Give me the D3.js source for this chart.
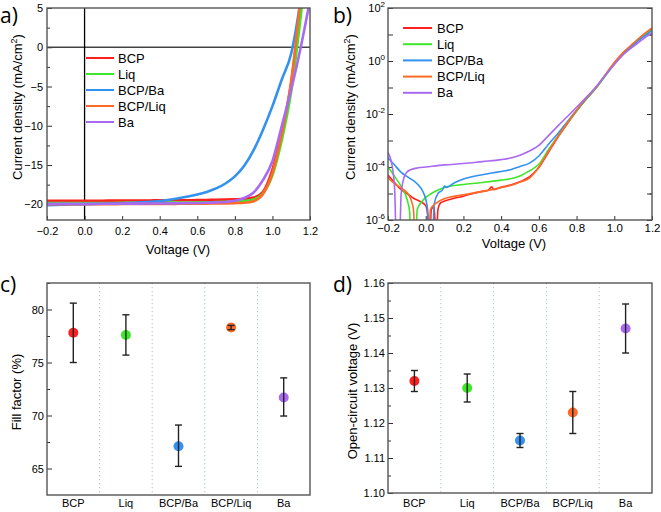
<!DOCTYPE html>
<html>
<head>
<meta charset="utf-8">
<script src="https://cdn.jsdelivr.net/npm/d3@7"></script>
<style>
body { margin: 0; background: #fff; }
text { font-family: "Liberation Sans", Arial, sans-serif; fill: #000; }
.lett { font-family: "Open Sans", "DejaVu Sans", sans-serif; }
</style>
</head>
<body>
<div id="fig"></div>
<script>
// ---------- data ----------
var names = ["BCP", "Liq", "BCP/Ba", "BCP/Liq", "Ba"];
var colors = ["#ff1f1f", "#3ee62a", "#3391f0", "#ff6a26", "#a86af2"];

// a) J-V under light (mA/cm2)
var voltA = [-0.2,-0.15,-0.1,-0.05,0,0.05,0.1,0.15,0.2,0.25,0.3,0.35,0.4,0.45,0.5,0.55,0.6,0.65,0.7,0.75,0.8,0.85,0.9,0.95,1.0,1.05,1.1,1.15,1.2];
var jBCP   = [-19.55,-19.55,-19.55,-19.55,-19.55,-19.54,-19.54,-19.53,-19.53,-19.52,-19.52,-19.51,-19.5,-19.5,-19.49,-19.48,-19.47,-19.45,-19.43,-19.4,-19.36,-19.3,-19.15,-18.4,-15.6,-10.8,-4.5,5.5,18];
var jLiq   = [-19.85,-19.85,-19.85,-19.84,-19.84,-19.84,-19.83,-19.83,-19.82,-19.82,-19.81,-19.8,-19.8,-19.79,-19.78,-19.77,-19.76,-19.74,-19.72,-19.69,-19.65,-19.58,-19.4,-18.6,-16.3,-11.8,-5.6,3.8,15];
var jBCPBa = [-20.1,-20.07,-20.05,-20.02,-20.0,-19.97,-19.94,-19.9,-19.86,-19.81,-19.76,-19.69,-19.58,-19.42,-19.22,-19.0,-18.75,-18.42,-17.98,-17.35,-16.45,-15.1,-13.1,-10.5,-7.5,-4.1,-0.8,6,15];
var jBCPLiq= [-20.0,-20.0,-20.0,-19.99,-19.99,-19.99,-19.98,-19.98,-19.97,-19.97,-19.96,-19.96,-19.95,-19.95,-19.94,-19.93,-19.92,-19.91,-19.9,-19.88,-19.85,-19.8,-19.6,-18.7,-16.0,-11.0,-4.3,6.5,20];
var jBa    = [-19.95,-19.95,-19.95,-19.94,-19.94,-19.94,-19.93,-19.93,-19.92,-19.92,-19.91,-19.9,-19.89,-19.88,-19.87,-19.85,-19.83,-19.8,-19.76,-19.7,-19.55,-19.2,-18.5,-16.9,-14.5,-10.0,-5.4,-0.1,6.0];
var seriesA = [jBCP, jLiq, jBCPBa, jBCPLiq, jBa];

// b) dark J-V, |J| (mA/cm2); 1e-7 marks points that drop below the axis
var vDarkBCP = [-0.2,-0.17,-0.13,-0.1,-0.06,-0.03,0,0.01,0.02,0.03,0.045,0.055,0.065,0.08,0.1,0.15,0.2,0.25,0.3,0.33,0.35,0.36,0.4,0.45,0.5,0.55,0.6,0.65,0.7,0.75,0.8,0.85,0.9,0.95,1.0,1.05,1.1,1.15,1.2];
var jDarkBCP = [5.0e-5,2.8e-5,1.4e-5,1.0e-5,6.3e-6,5.0e-6,3.5e-6,1.6e-6,1e-7,2.5e-6,3.2e-6,1e-7,2.5e-6,4.5e-6,5.2e-6,6.6e-6,7.9e-6,1.0e-5,1.2e-5,1.3e-5,1.8e-5,1.4e-5,1.7e-5,2.1e-5,2.8e-5,4.2e-5,9.5e-5,3.5e-4,1.3e-3,4.2e-3,1.3e-2,3.6e-2,9.1e-2,0.28,0.83,2.1,4.4,8.9,16.6];
var vDarkLiq = [-0.2,-0.17,-0.13,-0.1,-0.085,-0.078,-0.055,-0.045,-0.02,0,0.03,0.06,0.1,0.15,0.2,0.3,0.4,0.45,0.5,0.55,0.6,0.65,0.7,0.75,0.8,0.85,0.9,0.95,1.0,1.05,1.1,1.15,1.2];
var jDarkLiq = [1.0e-4,5.0e-5,1.8e-5,6.3e-6,2.0e-6,1e-7,1e-7,2.5e-6,5.0e-6,7.1e-6,1.0e-5,1.3e-5,1.7e-5,2.0e-5,2.2e-5,2.6e-5,3.2e-5,3.6e-5,4.6e-5,7.1e-5,1.26e-4,4.4e-4,1.4e-3,4.4e-3,1.3e-2,3.5e-2,8.9e-2,0.26,0.76,2.0,4.2,8.3,14.8];
var vDarkBCPBa = [-0.2,-0.17,-0.13,-0.09,-0.05,-0.01,0.01,0.022,0.035,0.045,0.065,0.09,0.1,0.11,0.15,0.2,0.25,0.3,0.35,0.4,0.45,0.5,0.55,0.6,0.65,0.7,0.75,0.8,0.85,0.9,0.95,1.0,1.05,1.1,1.15,1.2];
var jDarkBCPBa = [2.2e-4,1.3e-4,6.3e-5,4.0e-5,2.5e-5,1.0e-5,2.5e-6,1e-7,1e-7,4.0e-6,1.0e-5,1.4e-5,1.9e-5,1.7e-5,2.5e-5,3.5e-5,4.4e-5,5.1e-5,5.9e-5,6.8e-5,7.9e-5,1.05e-4,1.4e-4,2.6e-4,7.1e-4,1.8e-3,5.0e-3,1.4e-2,3.7e-2,9.3e-2,0.27,0.76,1.9,4.0,7.8,14.1];
var vDarkBCPLiq = [-0.2,-0.17,-0.13,-0.1,-0.08,-0.065,-0.055,0.015,0.025,0.04,0.08,0.12,0.2,0.3,0.35,0.4,0.45,0.5,0.55,0.6,0.65,0.7,0.75,0.8,0.85,0.9,0.95,1.0,1.05,1.1,1.15,1.2];
var jDarkBCPLiq = [4.0e-5,2.5e-5,1.6e-5,1.1e-5,6.3e-6,2.5e-6,1e-7,1e-7,2.5e-6,3.5e-6,5.6e-6,7.1e-6,8.9e-6,1.2e-5,1.4e-5,1.7e-5,2.0e-5,2.7e-5,3.8e-5,1.0e-4,3.8e-4,1.4e-3,4.5e-3,1.4e-2,3.9e-2,9.5e-2,0.29,0.87,2.2,4.6,9.5,17.8];
var vDarkBa = [-0.2,-0.18,-0.165,-0.155,-0.14,-0.13,-0.115,-0.1,-0.08,-0.04,0,0.1,0.2,0.3,0.4,0.45,0.5,0.55,0.6,0.65,0.7,0.75,0.8,0.85,0.9,0.95,1.0,1.05,1.1,1.15,1.2];
var jDarkBa = [3.5e-4,1.3e-4,1.6e-5,1e-7,1e-7,1.0e-5,4.0e-5,6.3e-5,7.9e-5,9.3e-5,1.0e-4,1.2e-4,1.35e-4,1.6e-4,1.9e-4,2.2e-4,2.8e-4,4.0e-4,6.6e-4,1.5e-3,3.5e-3,7.9e-3,1.8e-2,4.2e-2,0.10,0.28,0.74,1.8,3.5,6.6,11.7];
var voltB = [vDarkBCP, vDarkLiq, vDarkBCPBa, vDarkBCPLiq, vDarkBa];
var seriesB = [jDarkBCP, jDarkLiq, jDarkBCPBa, jDarkBCPLiq, jDarkBa];

// c) fill factor (%)
var ffMean = [77.8, 77.6, 67.1, 78.3, 71.7];
var ffLow  = [75.0, 75.7, 65.2, 78.1, 69.95];
var ffHigh = [80.6, 79.5, 69.1, 78.5, 73.55];

// d) open-circuit voltage (V)
var vocMean = [1.132, 1.130, 1.115, 1.123, 1.147];
var vocLow  = [1.129, 1.126, 1.113, 1.117, 1.140];
var vocHigh = [1.135, 1.134, 1.117, 1.129, 1.154];

// tick values
var ticksAx = [-0.2, 0, 0.2, 0.4, 0.6, 0.8, 1.0, 1.2];
var ticksAy = [5, 0, -5, -10, -15, -20];
var minorAy = [2.5, -2.5, -7.5, -12.5, -17.5];
var ticksBy = [1e2, 1e1, 1e0, 1e-1, 1e-2, 1e-3, 1e-4, 1e-5, 1e-6];
var labelsBy = [1e2, 1e0, 1e-2, 1e-4, 1e-6];
var ticksCy = [65, 70, 75, 80];
var minorCy = [67.5, 72.5, 77.5, 82.5];
var ticksDy = [1.10, 1.11, 1.12, 1.13, 1.14, 1.15, 1.16];
var minorDy = [1.105, 1.115, 1.125, 1.135, 1.145, 1.155];

// ---------- figure ----------
var svg = d3.select("#fig").append("svg")
  .attr("width", 661)
  .attr("height", 512);

var frameColor = "#555";

function frame(x0, x1, y0, y1) {
  svg.append("rect")
    .attr("x", x0).attr("y", y0)
    .attr("width", x1 - x0).attr("height", y1 - y0)
    .attr("fill", "none")
    .attr("stroke", frameColor)
    .attr("stroke-width", 1.4);
}

function styleAxis(g, size) {
  g.select(".domain").remove();
  g.selectAll(".tick line").attr("stroke", "#333").attr("stroke-width", 1);
  g.selectAll(".tick text").attr("font-size", size || 11).attr("fill", "#000");
}

function yTitle(x, y, parts) {
  var t = svg.append("text")
    .attr("transform", `translate(${x},${y}) rotate(-90)`)
    .attr("text-anchor", "middle")
    .attr("font-size", 13);
  parts.forEach(function(p) {
    var s = t.append("tspan").text(p.t);
    if (p.sup) s.attr("dy", -5).attr("font-size", 9);
    if (p.after) s.attr("dy", 5);
  });
}

function letter(x, y, txt) {
  svg.append("text").attr("class", "lett")
    .attr("x", x).attr("y", y)
    .attr("font-size", 21)
    .text(txt);
}

var densityLabel = [{t: "Current density (mA/cm"}, {t: "2", sup: true}, {t: ")", after: true}];

// ===== panel a =====
var xA = d3.scaleLinear().domain([-0.2, 1.2]).range([47, 310]);
var yA = d3.scaleLinear().domain([-22, 5]).range([220, 8]);

svg.append("clipPath").attr("id", "clipA")
  .append("rect").attr("x", 47).attr("y", 8).attr("width", 263).attr("height", 212);

svg.append("g").attr("transform", "translate(0,220)")
  .call(d3.axisBottom(xA).tickValues(ticksAx).tickSize(-4).tickPadding(7).tickFormat(d3.format(".1f")))
  .call(styleAxis);
svg.append("g").attr("transform", "translate(47,0)")
  .call(d3.axisLeft(yA).tickValues(ticksAy).tickSize(-5).tickPadding(4))
  .call(styleAxis);
svg.append("g").attr("transform", "translate(47,0)")
  .call(d3.axisLeft(yA).tickValues(minorAy).tickSize(-3).tickFormat(""))
  .call(styleAxis);

// zero lines
svg.append("line")
  .attr("x1", 47).attr("x2", 310).attr("y1", yA(0)).attr("y2", yA(0))
  .attr("stroke", "#444").attr("stroke-width", 1.3);
svg.append("line")
  .attr("x1", xA(0)).attr("x2", xA(0)).attr("y1", 8).attr("y2", 220)
  .attr("stroke", "#000").attr("stroke-width", 1.3);

var lineA = d3.line()
  .x(d => xA(d[0]))
  .y(d => yA(d[1]))
  .curve(d3.curveMonotoneX);

var curvesA = svg.append("g").attr("clip-path", "url(#clipA)");
seriesA.forEach(function(s, i) {
  curvesA.append("path")
    .datum(voltA.map((v, k) => [v, s[k]]))
    .attr("d", lineA)
    .attr("fill", "none")
    .attr("stroke", colors[i])
    .attr("stroke-width", 2.6);
});

frame(47, 310, 8, 220);

// legend a
names.forEach(function(n, i) {
  var y = 58 + 16 * i;
  svg.append("line").attr("x1", 86).attr("x2", 114).attr("y1", y).attr("y2", y)
    .attr("stroke", colors[i]).attr("stroke-width", 2);
  svg.append("text").attr("x", 118).attr("y", y + 4.5).attr("font-size", 13).text(n);
});

yTitle(22, 107, densityLabel);
svg.append("text").attr("x", 178).attr("y", 254).attr("text-anchor", "middle")
  .attr("font-size", 13).text("Voltage (V)");
letter(0, 23, "a)");

// ===== panel b =====
var xB = d3.scaleLinear().domain([-0.2, 1.2]).range([388, 652]);
var yB = d3.scaleLog().domain([1e-6, 1e2]).range([220, 8]);

svg.append("clipPath").attr("id", "clipB")
  .append("rect").attr("x", 388).attr("y", 8).attr("width", 264).attr("height", 212);

svg.append("g").attr("transform", "translate(0,220)")
  .call(d3.axisBottom(xB).tickValues(ticksAx).tickSize(-4).tickPadding(4).tickFormat(d3.format(".1f")))
  .call(g => styleAxis(g, 11.5));
svg.append("g").attr("transform", "translate(388,0)")
  .call(d3.axisLeft(yB).tickValues(ticksBy).tickSize(-5).tickFormat(""))
  .call(styleAxis);
svg.append("g").attr("transform", "translate(652,0)")
  .call(d3.axisRight(yB).tickValues(ticksBy).tickSize(-5).tickFormat(""))
  .call(styleAxis);
svg.append("g").attr("transform", "translate(652,0)")
  .call(d3.axisRight(yB).ticks(8).tickSize(-2.5).tickFormat(""))
  .call(styleAxis);

svg.append("g").selectAll("text")
  .data(labelsBy)
  .join("text")
  .attr("x", 385)
  .attr("y", d => yB(d) + 4)
  .attr("text-anchor", "end")
  .attr("font-size", 11)
  .each(function(d) {
    var t = d3.select(this);
    t.append("tspan").text("10");
    t.append("tspan").attr("dy", -5).attr("font-size", 8).text(Math.round(Math.log10(d)));
  });

var lineB = d3.line()
  .x(d => xB(d[0]))
  .y(d => yB(d[1]))
  .curve(d3.curveMonotoneX);

var curvesB = svg.append("g").attr("clip-path", "url(#clipB)");
seriesB.forEach(function(s, i) {
  curvesB.append("path")
    .datum(voltB[i].map((v, k) => [v, s[k]]))
    .attr("d", lineB)
    .attr("fill", "none")
    .attr("stroke", colors[i])
    .attr("stroke-width", 1.6);
});

frame(388, 652, 8, 220);

names.forEach(function(n, i) {
  var y = 28 + 16.2 * i;
  svg.append("line").attr("x1", 403).attr("x2", 432).attr("y1", y).attr("y2", y)
    .attr("stroke", colors[i]).attr("stroke-width", 2);
  svg.append("text").attr("x", 437).attr("y", y + 4.5).attr("font-size", 13).text(n);
});

yTitle(355, 107, densityLabel);
svg.append("text").attr("x", 514).attr("y", 248).attr("text-anchor", "middle")
  .attr("font-size", 13).text("Voltage (V)");
letter(333, 23, "b)");

// ===== panels c and d =====
function dotPanel(x0, x1, y0, y1, domain, ticks, minor, fmt, mean, lo, hi, labX, title, titleY) {
  var x = d3.scaleBand().domain(names).range([x0, x1]);
  var y = d3.scaleLinear().domain(domain).range([y1, y0]);

  // dotted separators
  svg.append("g").selectAll("line")
    .data(names.slice(1))
    .join("line")
    .attr("x1", d => x(d)).attr("x2", d => x(d))
    .attr("y1", y0).attr("y2", y1)
    .attr("stroke", "#a9c6d0")
    .attr("stroke-width", 1)
    .attr("stroke-dasharray", "1.2,2.8");

  svg.append("g").attr("transform", `translate(${x0},0)`)
    .call(d3.axisLeft(y).tickValues(ticks).tickSize(-5).tickPadding(3).tickFormat(fmt))
    .call(styleAxis);
  svg.append("g").attr("transform", `translate(${x0},0)`)
    .call(d3.axisLeft(y).tickValues(minor).tickSize(-3).tickFormat(""))
    .call(styleAxis);

  svg.append("g").selectAll("text")
    .data(names)
    .join("text")
    .attr("x", d => x(d) + x.bandwidth() / 2)
    .attr("y", 507)
    .attr("text-anchor", "middle")
    .attr("font-size", 11)
    .text(d => d);

  var cx = i => x(names[i]) + x.bandwidth() / 2;

  svg.append("g").selectAll("circle")
    .data(mean)
    .join("circle")
    .attr("cx", (d, i) => cx(i))
    .attr("cy", d => y(d))
    .attr("r", 5)
    .attr("fill", (d, i) => colors[i]);

  var eb = svg.append("g").attr("stroke", "#222").attr("stroke-width", 1.4);
  mean.forEach(function(m, i) {
    eb.append("line").attr("x1", cx(i)).attr("x2", cx(i)).attr("y1", y(lo[i])).attr("y2", y(hi[i]));
    eb.append("line").attr("x1", cx(i) - 3.5).attr("x2", cx(i) + 3.5).attr("y1", y(lo[i])).attr("y2", y(lo[i]));
    eb.append("line").attr("x1", cx(i) - 3.5).attr("x2", cx(i) + 3.5).attr("y1", y(hi[i])).attr("y2", y(hi[i]));
  });

  frame(x0, x1, y0, y1);

  svg.append("text")
    .attr("transform", `translate(${labX},${titleY}) rotate(-90)`)
    .attr("text-anchor", "middle")
    .attr("font-size", 13)
    .text(title);
}

dotPanel(47, 310, 283, 495, [62.5, 82.5], ticksCy, minorCy, d3.format("d"),
  ffMean, ffLow, ffHigh, 21, "Fill factor (%)", 392);
letter(0, 292, "c)");

dotPanel(388, 652, 283, 493, [1.10, 1.16], ticksDy, minorDy, d3.format(".2f"),
  vocMean, vocLow, vocHigh, 357, "Open-circuit voltage (V)", 391);
letter(333, 292, "d)");
</script>
</body>
</html>
